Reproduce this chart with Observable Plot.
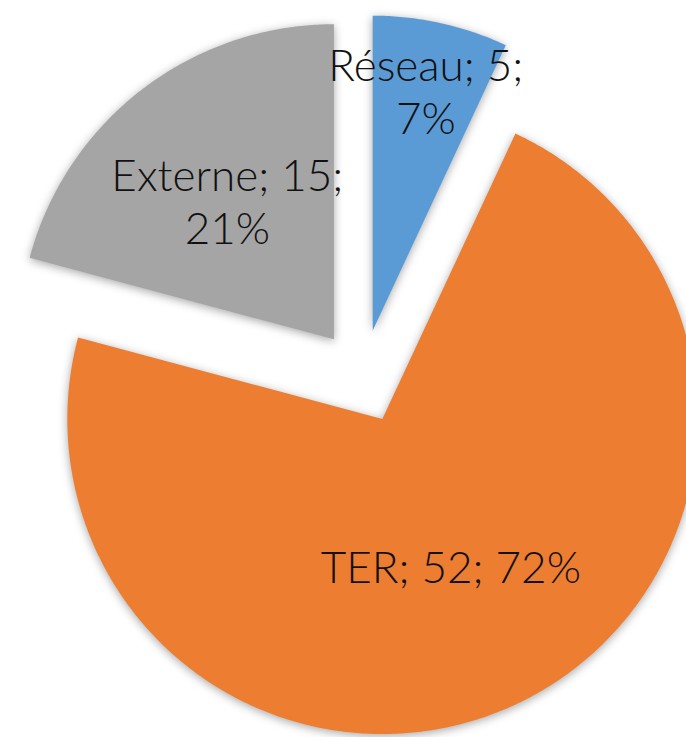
<!DOCTYPE html>
<html>
<head>
<meta charset="utf-8">
<script src="https://cdn.jsdelivr.net/npm/d3@7"></script>
<script src="https://cdn.jsdelivr.net/npm/@observablehq/plot@0.6"></script>
<style>
  html, body { margin: 0; padding: 0; background: #fff; overflow: hidden; }
  #chart svg { overflow: hidden; display: block; }
  #chart svg g[aria-label="line"] path { filter: drop-shadow(0 2px 5px rgba(0,0,0,0.35)); }
</style>
</head>
<body>
<div id="chart"></div>
<script>
// Data
const categories = ["Réseau", "TER", "Externe"];
const values = [5, 52, 15];
const percentLabels = ["7%", "72%", "21%"];
const colors = ["#5B9BD5", "#ED7D31", "#A5A5A5"];

// Layout (unit radius = 1)
const W = 686, H = 737, R = 315;
const cx = 362, cy = 376;
const explode = 0.149;
const labelRadius = {"Réseau": 0.78, "TER": 0.515, "Externe": 0.556};
const labelText = {
  "Réseau": `${categories[0]}; ${values[0]};\n${percentLabels[0]}`,
  "TER": `${categories[1]}; ${values[1]}; ${percentLabels[1]}`,
  "Externe": `${categories[2]}; ${values[2]};\n${percentLabels[2]}`
};

const pie = d3.pie().sort(null).value(d => d.value);
const arcs = pie(categories.map((c, i) => ({name: c, value: values[i]})));

const polyPts = [];
const labels = [];
arcs.forEach(a => {
  const mid = (a.startAngle + a.endAngle) / 2;
  const ox = Math.sin(mid) * explode, oy = Math.cos(mid) * explode;
  polyPts.push({name: a.data.name, x: ox, y: oy});
  const n = Math.max(4, Math.ceil((a.endAngle - a.startAngle) / (Math.PI / 360)));
  for (let k = 0; k <= n; k++) {
    const t = a.startAngle + (a.endAngle - a.startAngle) * k / n;
    polyPts.push({name: a.data.name, x: ox + Math.sin(t), y: oy + Math.cos(t)});
  }
  polyPts.push({name: a.data.name, x: ox, y: oy});
  const lr = explode + labelRadius[a.data.name];
  labels.push({name: a.data.name, x: Math.sin(mid) * lr, y: Math.cos(mid) * lr, text: labelText[a.data.name]});
});

const chart = Plot.plot({
  width: W,
  height: H,
  margin: 0,
  x: {domain: [-cx / R, (W - cx) / R], axis: null},
  y: {domain: [-(H - cy) / R, cy / R], axis: null},
  color: {domain: categories, range: colors},
  style: {background: "#fff"},
  marks: [
    Plot.line(polyPts, {x: "x", y: "y", z: "name", fill: "name", stroke: "none", curve: "linear"}),
    Plot.text(labels, {
      x: "x", y: "y", text: "text",
      fontSize: 44, fontWeight: 300, fontFamily: "Lato, 'Open Sans', sans-serif",
      lineHeight: 1.2, fill: "#111", textAnchor: "middle"
    })
  ]
});
document.getElementById("chart").appendChild(chart);
</script>
</body>
</html>
